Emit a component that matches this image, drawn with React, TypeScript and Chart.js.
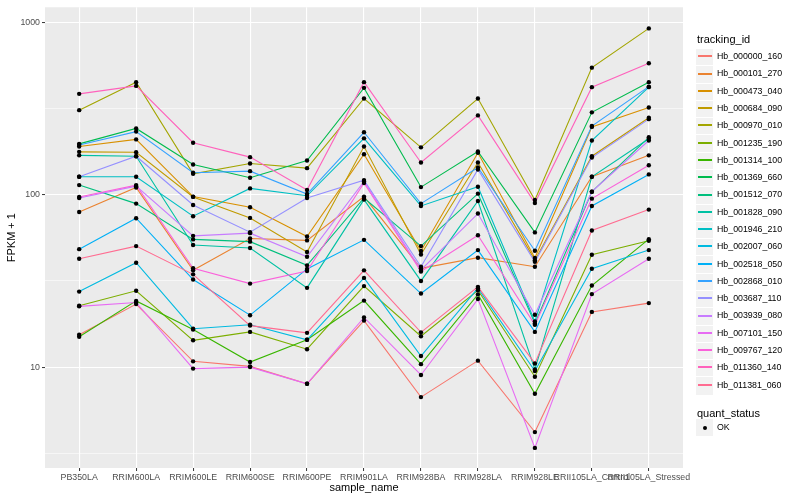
import React, { useEffect, useRef } from 'react';
import { Chart, registerables } from 'chart.js';

Chart.register(...registerables);

const categories = [
  'PB350LA', 'RRIM600LA', 'RRIM600LE', 'RRIM600SE', 'RRIM600PE', 'RRIM901LA',
  'RRIM928BA', 'RRIM928LA', 'RRIM928LE', 'RRII105LA_Control', 'RRII105LA_Stressed',
];

const trackingIds = [
  'Hb_000000_160', 'Hb_000101_270', 'Hb_000473_040', 'Hb_000684_090', 'Hb_000970_010',
  'Hb_001235_190', 'Hb_001314_100', 'Hb_001369_660', 'Hb_001512_070', 'Hb_001828_090',
  'Hb_001946_210', 'Hb_002007_060', 'Hb_002518_050', 'Hb_002868_010', 'Hb_003687_110',
  'Hb_003939_080', 'Hb_007101_150', 'Hb_009767_120', 'Hb_011360_140', 'Hb_011381_060',
];

const seriesColors = [
  '#F8766D', '#EA8331', '#D89000', '#C09B00', '#A3A500', '#7CAE00', '#39B600', '#00BB4E',
  '#00BF7D', '#00C1A3', '#00BFC4', '#00BAE0', '#00B0F6', '#35A2FF', '#9590FF', '#C77CFF',
  '#E76BF3', '#FA62DB', '#FF62BC', '#FF6C91',
];

// FPKM + 1 per sample, in category order
const hb000000_160 = [15.4, 23.2, 10.8, 10.1, 8.0, 18.6, 6.7, 10.9, 4.2, 20.9, 23.5];
const hb000101_270 = [79.3, 110, 36.4, 55.7, 54.3, 97.4, 37.4, 43.1, 38.2, 127, 169];
const hb000473_040 = [190, 209, 97.4, 84.5, 57.2, 171.5, 47.1, 174.8, 42.9, 247, 320];
const hb000684_090 = [177, 176, 97, 73.3, 46.5, 190, 45, 153.6, 41.7, 167, 279];
const hb000970_010 = [309, 449, 132, 151.6, 142.4, 361, 188, 361, 93.1, 545, 920];
const hb001235_190 = [22.7, 27.7, 14.3, 16, 12.7, 29.5, 15.1, 27.9, 8.8, 44.8, 54];
const hb001314_100 = [15.0, 24.2, 16.5, 10.7, 14.4, 24.3, 10.4, 26.4, 7.0, 29.7, 55.2];
const hb001369_660 = [197, 242, 149.6, 125.4, 157.7, 416, 110.6, 178, 60.4, 300, 449];
const hb001512_070 = [113.6, 88.7, 55, 53.4, 38.9, 95.6, 50.3, 101.3, 17.9, 104, 215];
const hb001828_090 = [169, 167, 51, 49, 28.8, 93.6, 31.6, 91.9, 9.7, 127, 211];
const hb001946_210 = [127, 127, 75, 108.7, 98.5, 212, 86, 111.2, 18.4, 206, 420];
const hb002007_060 = [27.4, 40.3, 16.7, 17.6, 14.4, 32.9, 11.6, 28.7, 9.5, 37.2, 47.7];
const hb002518_050 = [48.3, 73, 32.2, 20, 37.1, 54.7, 26.7, 47.7, 16.0, 86, 131];
const hb002868_010 = [194, 232, 134, 136.8, 100.8, 230, 88.7, 143.7, 47.3, 250, 423];
const hb003687_110 = [127, 167, 87.1, 60.6, 95.6, 121.4, 38.2, 140, 40.8, 164, 274];
const hb003939_080 = [95.6, 112, 57.7, 59.8, 43.6, 119.3, 36.6, 77.7, 20.1, 104, 206];
const hb007101_150 = [22.5, 23.7, 9.8, 10, 8.0, 19.4, 9.0, 24.8, 3.4, 26.5, 42.5];
const hb009767_120 = [96.9, 113.6, 37.4, 30.5, 36.1, 116.8, 35.8, 58.2, 17.6, 94.8, 148];
const hb011360_140 = [384, 427, 200, 165, 106.3, 449, 153.6, 288, 89.4, 420, 578];
const hb011381_060 = [42.5, 50.3, 34.5, 17.4, 15.8, 36.4, 15.9, 29.2, 10.5, 62, 81.9];

const seriesValues = [
  hb000000_160, hb000101_270, hb000473_040, hb000684_090, hb000970_010,
  hb001235_190, hb001314_100, hb001369_660, hb001512_070, hb001828_090,
  hb001946_210, hb002007_060, hb002518_050, hb002868_010, hb003687_110,
  hb003939_080, hb007101_150, hb009767_120, hb011360_140, hb011381_060,
];

const yMajorTicks = [10, 100, 1000];
const yMajorLabels = ['10', '100', '1000'];
const yMinorTicks = [3.1623, 31.623, 316.23];

const FONT = "'Liberation Sans', Arial, Helvetica, sans-serif";

const isMajor = (v: number) => yMajorTicks.some((m) => Math.abs(m - v) / m < 1e-6);

const panelBg = {
  id: 'panelBg',
  beforeDraw(chart: any) {
    const { ctx, chartArea } = chart;
    ctx.save();
    ctx.fillStyle = '#EBEBEB';
    ctx.fillRect(chartArea.left, chartArea.top, chartArea.right - chartArea.left, chartArea.bottom - chartArea.top);
    ctx.restore();
  },
};

function Legend() {
  const keyH = 17.28;
  const firstCenter = 56.7;
  return (
    <>
      <div style={{ position: 'absolute', left: 697, top: 33, fontFamily: FONT, fontSize: 11, lineHeight: '13px', color: '#000' }}>
        tracking_id
      </div>
      {trackingIds.map((id, i) => {
        const cy = firstCenter + i * keyH;
        const top = Math.round(cy - keyH / 2);
        const h = Math.round(cy + keyH / 2) - top;
        return (
          <React.Fragment key={id}>
            <div style={{ position: 'absolute', left: 696, top, width: 17, height: h, background: '#F2F2F2', borderTop: '1px solid #FFFFFF', borderBottom: '1px solid #FFFFFF' }} />
            <div style={{ position: 'absolute', left: 698, top: top + Math.floor(h / 2) - 1, width: 14, height: 2, background: seriesColors[i] }} />
            <div style={{ position: 'absolute', left: 717, top: Math.round(cy - 5.5), fontFamily: FONT, fontSize: 8.8, lineHeight: '11px', color: '#000', whiteSpace: 'nowrap' }}>
              {id}
            </div>
          </React.Fragment>
        );
      })}
      <div style={{ position: 'absolute', left: 697, top: 407, fontFamily: FONT, fontSize: 11, lineHeight: '13px', color: '#000' }}>
        quant_status
      </div>
      <div style={{ position: 'absolute', left: 696, top: 419, width: 17, height: 17, background: '#F2F2F2' }} />
      <div style={{ position: 'absolute', left: 702.5, top: 425.5, width: 4, height: 4, borderRadius: 2, background: '#000' }} />
      <div style={{ position: 'absolute', left: 717, top: 422, fontFamily: FONT, fontSize: 8.8, lineHeight: '11px', color: '#000' }}>
        OK
      </div>
    </>
  );
}

export default function App() {
  const canvasRef = useRef<HTMLCanvasElement | null>(null);

  useEffect(() => {
    const canvas = canvasRef.current;
    if (!canvas) return;

    const lineSets = seriesValues.map((vals, i) => ({
      label: trackingIds[i],
      data: vals.map((v, j) => ({ x: j, y: v })),
      borderColor: seriesColors[i],
      backgroundColor: seriesColors[i],
      borderWidth: 1.1,
      pointRadius: 0,
      tension: 0,
      fill: false,
      order: seriesValues.length - i,
    }));

    const pointSet = {
      label: 'OK',
      data: seriesValues.flatMap((vals) => vals.map((v, j) => ({ x: j, y: v }))),
      showLine: false,
      pointRadius: 2.2,
      pointBackgroundColor: '#000000',
      pointBorderWidth: 0,
      borderColor: '#000000',
      order: -1,
    };

    const chart = new Chart(canvas, {
      type: 'line',
      data: { datasets: [pointSet as any, ...lineSets] },
      options: {
        responsive: false,
        animation: false,
        events: [],
        layout: { padding: { left: 0, top: 5, right: 117, bottom: 0 } },
        plugins: { legend: { display: false }, tooltip: { enabled: false } },
        scales: {
          x: {
            type: 'linear',
            min: -0.6,
            max: 10.6,
            afterBuildTicks: (s: any) => {
              s.ticks = categories.map((_, i) => ({ value: i }));
            },
            afterFit: (s: any) => {
              s.height = 32;
            },
            ticks: {
              autoSkip: false,
              maxRotation: 0,
              minRotation: 0,
              padding: 1,
              color: '#4D4D4D',
              font: { family: FONT, size: 8.8 },
              callback: (v: any) => categories[Math.round(Number(v))] ?? '',
            },
            grid: { color: '#FFFFFF', lineWidth: 1.1, tickColor: '#333333', tickLength: 3, tickWidth: 1 },
            border: { display: false },
            title: {
              display: true,
              text: 'sample_name',
              color: '#000000',
              font: { family: FONT, size: 11 },
              padding: { top: 0, bottom: 5 },
            },
          },
          y: {
            type: 'logarithmic',
            min: 2.6,
            max: 1220,
            afterBuildTicks: (s: any) => {
              s.ticks = [...yMinorTicks, ...yMajorTicks].sort((a, b) => a - b).map((v) => ({ value: v }));
            },
            afterFit: (s: any) => {
              s.width = 45;
            },
            ticks: {
              autoSkip: false,
              padding: 2,
              color: '#4D4D4D',
              font: { family: FONT, size: 8.8 },
              callback: (v: any) => {
                const idx = yMajorTicks.findIndex((m) => Math.abs(m - Number(v)) / m < 1e-6);
                return idx >= 0 ? yMajorLabels[idx] : '';
              },
            },
            grid: {
              color: '#FFFFFF',
              lineWidth: (ctx: any) => (ctx.tick && isMajor(ctx.tick.value) ? 1.1 : 0.55),
              tickColor: (ctx: any) => (ctx.tick && isMajor(ctx.tick.value) ? '#333333' : 'rgba(0,0,0,0)'),
              tickLength: 3,
              tickWidth: 1,
            },
            border: { display: false },
            title: {
              display: true,
              text: 'FPKM + 1',
              color: '#000000',
              font: { family: FONT, size: 11 },
              padding: { top: 5, bottom: 0 },
            },
          },
        },
      },
      plugins: [panelBg],
    } as any);

    return () => chart.destroy();
  }, []);

  return (
    <div style={{ position: 'absolute', left: 0, top: 0, width: 800, height: 500, background: '#FFFFFF', overflow: 'hidden' }}>
      <canvas ref={canvasRef} width={800} height={500} style={{ position: 'absolute', left: 0, top: 0, width: 800, height: 500 }} />
      <Legend />
    </div>
  );
}
